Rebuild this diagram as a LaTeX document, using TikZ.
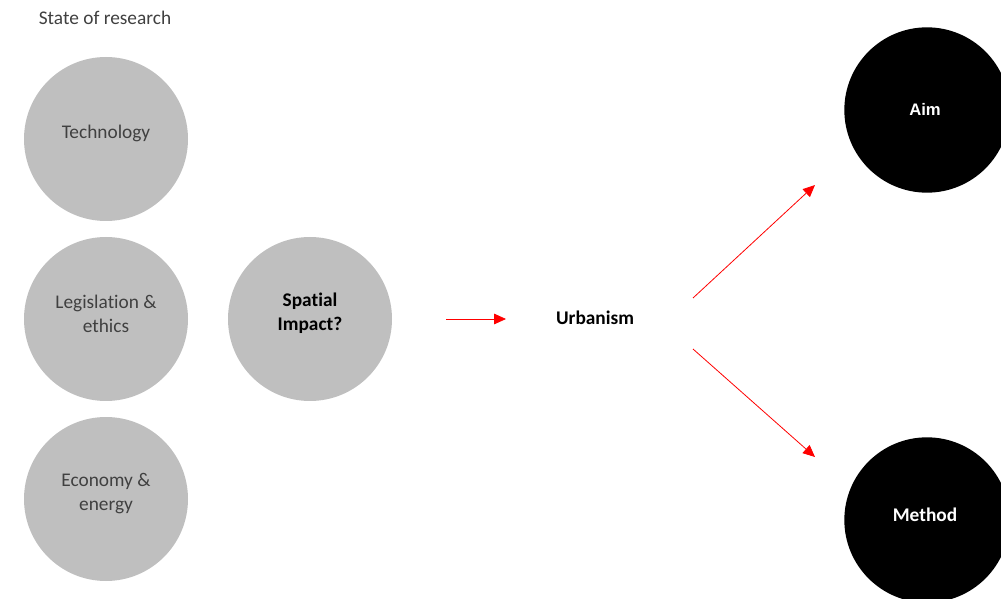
\documentclass[tikz,border=0pt]{standalone}
\usepackage{fontspec}
\setmainfont[Ligatures={NoCommon}]{Carlito}
\newfontfamily\arialfont{Liberation Sans}
\usetikzlibrary{arrows.meta,positioning,calc}
\definecolor{topicgrey}{RGB}{191,191,191}
\definecolor{labelgrey}{RGB}{64,64,64}
\tikzset{
  topic/.style    = {circle, minimum size=123pt, inner sep=0pt,
                     fill=topicgrey,
                     label={[align=center, text=labelgrey, yshift=4pt,
                             font=\fontsize{14.5}{18}\selectfont]center:#1}},
  keytopic/.style = {topic, label={[align=center, text=black, yshift=4pt,
                             font=\fontsize{14.5}{18}\selectfont\bfseries]center:#1}},
  goal/.style     = {circle, minimum size=124pt, inner sep=0pt, fill=black},
  goaltext/.style = {text=white, font=\fontsize{14.5}{18}\selectfont\bfseries},
  caption/.style  = {font=\fontsize{14.5}{18}\selectfont, text=labelgrey},
  link/.style     = {-{Triangle[length=9pt,width=8pt]}, red, line width=0.6pt}
}

\begin{document}
\begin{tikzpicture}[x=0.75pt,y=-0.75pt]
\useasboundingbox (0,0) rectangle (1001,599);
\node [caption] (state) at (105,18) {State of research};
% state of research
\node [topic={Technology}] (tech) at (106,139) {};
\node [topic={Legislation \&\\ethics}] (legis) at (106,319) {};
\node [topic={Economy \&\\energy}] (econ) at (106,499) {};
\node [keytopic={Spatial\\Impact?}] (spatial) at (310,319) {};
% focus and outcomes
\node [font=\fontsize{14.5}{18}\selectfont\bfseries] (urban) at (595,318) {Urbanism};
\node [goal] (aim) at (927,110) {};
\node [goaltext, font=\arialfont\fontsize{12.5}{15}\selectfont\bfseries] (aimtext) at (925,109) {Aim};
\node [goal] (method) at (927,520) {};
\node [goaltext] (methodtext) at (925,515) {Method};
\coordinate (aimfrom) at ($(urban)+(98,-20)$);
\coordinate (aimto) at ($(aim)+(-112,75)$);
\coordinate (methodfrom) at ($(urban)+(98,31)$);
\coordinate (methodto) at ($(method)+(-112,-63)$);
\draw [link] ($(spatial)+(136,0)$) -- ($(urban)+(-89,1)$);
\draw [link] (aimfrom) -- (aimto);
\draw [link] (methodfrom) -- (methodto);
\end{tikzpicture}
\end{document}
